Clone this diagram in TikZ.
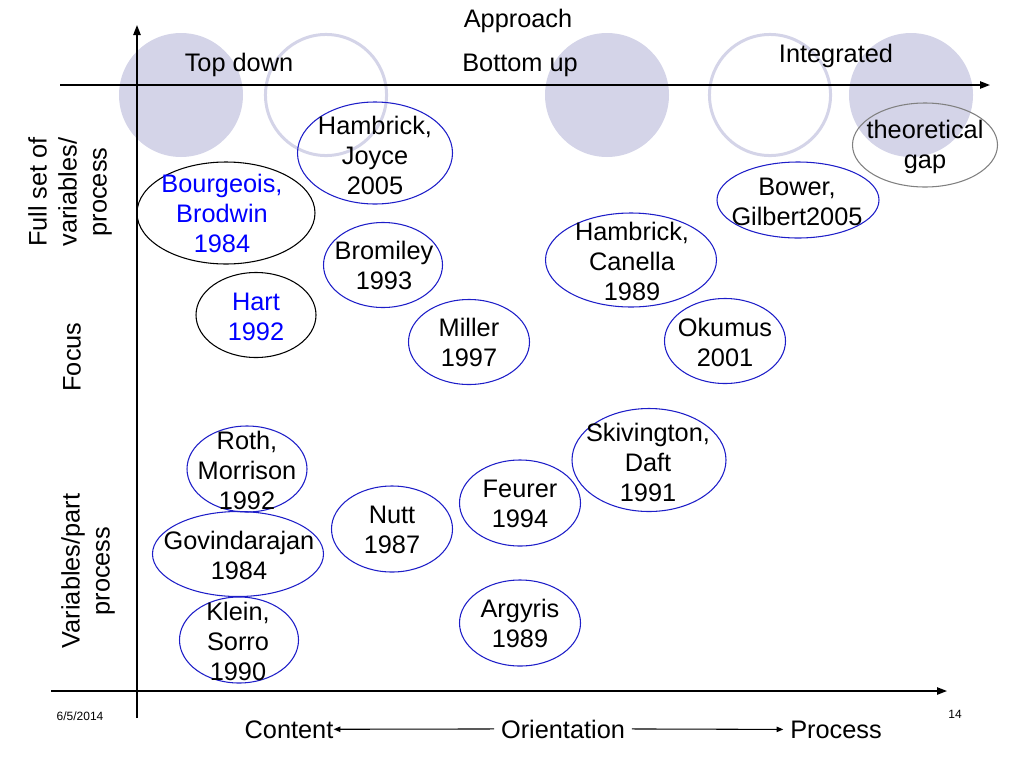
\documentclass[tikz,border=0pt]{standalone}
\usepackage{fontspec}
\setmainfont{Liberation Sans}
\usetikzlibrary{arrows.meta,shapes.geometric}

\definecolor{lavender}{RGB}{212,212,232}
\definecolor{refblue}{RGB}{30,30,200}
\definecolor{gapgray}{RGB}{128,128,128}
\definecolor{namblue}{RGB}{0,0,255}

\tikzset{
  study/.style={ellipse, draw=refblue, line width=0.8pt, inner sep=0pt},
  wh/.style 2 args={minimum width=#1*0.75pt, minimum height=#2*0.75pt},
  cite/.style={align=center, inner sep=0pt},
  axis/.style={line width=1.1pt, -{Triangle[length=7.5pt,width=5.5pt]}},
}

\begin{document}
\begin{tikzpicture}[x=0.75pt,y=-0.75pt,>={Triangle[length=5pt,width=4pt]},
    every node/.style={font=\fontsize{19}{22.5}\selectfont}]
  \useasboundingbox (0,0) rectangle (1024,768);
  % approach circles
  \fill[lavender] (181,95) circle [radius=46.5pt];
  \draw[lavender, line width=2.25pt] (326,95) circle [radius=45.4pt];
  \fill[lavender] (607,95) circle [radius=46.5pt];
  \draw[lavender, line width=2.25pt] (770,95) circle [radius=45.4pt];
  \fill[lavender] (911,95) circle [radius=46.5pt];
  % axes
  \coordinate (vbot) at (137,718);
  \coordinate (vtop) at (137,25);
  \coordinate (tleft) at (60,85);
  \coordinate (tright) at (990,85);
  \coordinate (bleft) at (51,691);
  \coordinate (bright) at (947,691);
  \draw[axis] (vbot) -- (vtop);
  \draw[axis] (tleft) -- (tright);
  \draw[axis] (bleft) -- (bright);
  % approach labels
  \node (approach) at (518,21) {Approach};
  \node (topdown) at (239,65) {Top down};
  \node (bottomup) at (520,65) {Bottom up};
  \node (integrated) at (836,56) {Integrated};
  % focus labels
  \node[rotate=90, align=center] (fullset) at (70,192) {Full set of\\variables/\\process};
  \node[rotate=90] (focus) at (72,357) {Focus};
  \node[rotate=90, align=center] (partset) at (88,571) {Variables/part\\process};
  % studies
  \node[study, wh={155}{102}] (hj) at (375,153) {};
  \node[cite] (hjt) at (375,155) {Hambrick,\\Joyce\\2005};
  \node[study, draw=black, wh={178}{102}] (bb) at (226,213) {};
  \node[cite, text=namblue] (bbt) at (222,213) {Bourgeois,\\Brodwin\\1984};
  \node[study, wh={162}{76}] (bo) at (798,200) {};
  \node[cite] (bot) at (797,202) {Bower,\\Gilbert2005};
  \node[study, draw=gapgray, wh={145}{84}] (tg) at (925,145) {};
  \node[cite] (tgt) at (925,147) {theoretical\\gap};
  \node[study, wh={119}{85}] (br) at (383,265) {};
  \node[cite] (brt) at (384,265) {Bromiley\\1993};
  \node[study, wh={171}{94}] (hc) at (631,260) {};
  \node[cite] (hct) at (632,261) {Hambrick,\\Canella\\1989};
  \node[study, draw=black, wh={120}{85}] (ha) at (256,315) {};
  \node[cite, text=namblue] (hat) at (256,317) {Hart\\1992};
  \node[study, wh={121}{85}] (mi) at (469,342) {};
  \node[cite] (mit) at (469,342) {Miller\\1997};
  \node[study, wh={121}{85}] (ok) at (725,341) {};
  \node[cite] (okt) at (725,342) {Okumus\\2001};
  \node[study, wh={120}{86}] (ro) at (247,469) {};
  \node[cite] (rot) at (247,470) {Roth,\\Morrison\\1992};
  \node[study, wh={154}{103}] (sk) at (649,460) {};
  \node[cite] (skt) at (648,462) {Skivington,\\Daft\\1991};
  \node[study, wh={121}{86}] (fe) at (520,503) {};
  \node[cite] (fet) at (520,504) {Feurer\\1994};
  \node[study, wh={121}{86}] (nu) at (392,529) {};
  \node[cite] (nut) at (392,530) {Nutt\\1987};
  \node[study, wh={171}{85}] (go) at (238,554) {};
  \node[cite] (got) at (239,555) {Govindarajan\\1984};
  \node[study, wh={121}{86}] (ar) at (520,623) {};
  \node[cite] (art) at (520,623) {Argyris\\1989};
  \node[study, wh={119}{86}] (kl) at (239,640) {};
  \node[cite] (klt) at (238,641) {Klein,\\Sorro\\1990};
  % orientation
  \node[anchor=base, inner sep=0pt] (content) at (289,738) {Content};
  \node[anchor=base, inner xsep=5pt] (orient) at (563,738) {Orientation};
  \node[anchor=base, inner xsep=5pt] (process) at (836,738) {Process};
  \draw[->, line width=0.8pt] (orient.west) -- (content.east);
  \draw[->, line width=0.8pt] (orient.east) -- (process.west);
  % footer
  \node[font=\fontsize{9}{11}\selectfont] (date) at (80,716) {6/5/2014};
  \node[font=\fontsize{9}{11}\selectfont] (page) at (955,714) {14};
\end{tikzpicture}
\end{document}
